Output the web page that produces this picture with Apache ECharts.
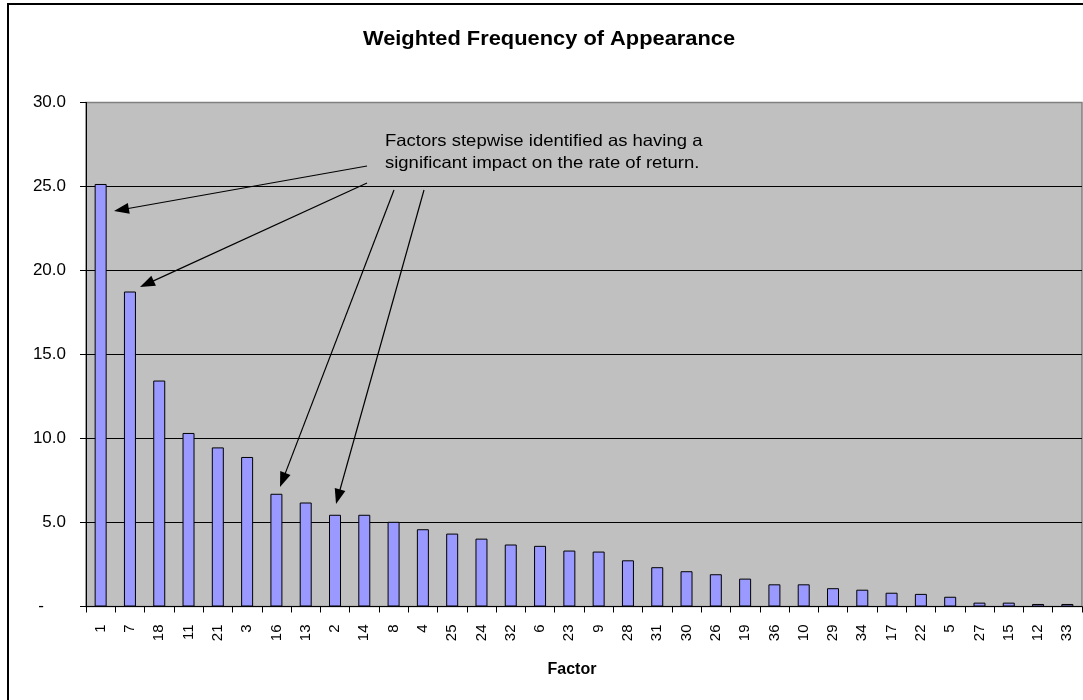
<!DOCTYPE html>
<html>
<head>
<meta charset="utf-8">
<style>
  html, body { margin: 0; padding: 0; background: #ffffff; }
  #chart { width: 1083px; height: 700px; }
</style>
<script src="https://cdn.jsdelivr.net/npm/echarts@6/dist/echarts.min.js"></script>
</head>
<body>
<div id="chart"></div>
<script>
// Factors, sorted by weighted frequency
const factors = ['1','7','18','11','21','3','16','13','2','14','8','4','25','24','32','6','23','9','28','31','30','26','19','36','10','29','34','17','22','5','27','15','12','33'];
const weightedFrequency = [25.15, 18.75, 13.45, 10.33, 9.47, 8.9, 6.71, 6.19, 5.46, 5.46, 5.04, 4.6, 4.34, 4.04, 3.69, 3.61, 3.33, 3.27, 2.75, 2.34, 2.1, 1.92, 1.66, 1.32, 1.32, 1.09, 1.0, 0.82, 0.75, 0.58, 0.23, 0.23, 0.15, 0.15];
const yTicks = { min: 0, max: 30, step: 5 };

const chartTitle = 'Weighted Frequency of Appearance';
const axisTitle = 'Factor';
const noteLines = ['Factors stepwise identified as having a', 'significant impact on the rate of return.'];

const FONT = '"Liberation Sans", Arial, Helvetica, sans-serif';

// Callout arrows: [startX, startY, tipX, tipY] in pixels
const arrows = [
  [367, 166, 114, 211],
  [367, 183, 140, 287],
  [394, 190, 280, 487],
  [424, 190, 336, 504]
];

function arrowGraphics(a) {
  const [x1, y1, x2, y2] = a;
  const dx = x2 - x1, dy = y2 - y1;
  const len = Math.sqrt(dx * dx + dy * dy);
  const ux = dx / len, uy = dy / len;
  const headLen = 15, headHalf = 5.5;
  const bx = x2 - ux * headLen, by = y2 - uy * headLen;
  const px = -uy * headHalf, py = ux * headHalf;
  return [
    { type: 'line', silent: true, z: 20,
      shape: { x1: x1, y1: y1, x2: bx + ux * 2, y2: by + uy * 2 },
      style: { stroke: '#000', lineWidth: 1.2 } },
    { type: 'polygon', silent: true, z: 20,
      shape: { points: [[x2, y2], [bx + px, by + py], [bx - px, by - py]] },
      style: { fill: '#000' } }
  ];
}

// Text drawn slightly wide, scaled about its own anchor point
function wideText(x, y, text, font, align) {
  return { type: 'text', silent: true, z: 30, x: x, y: y, scaleX: 1.12, originX: 0, originY: 0,
    style: { text: text, font: font, fill: '#000', textAlign: align, textVerticalAlign: 'middle' } };
}

const graphics = [
  { type: 'rect', silent: true, z: 30,
    shape: { x: 8, y: 4, width: 1120, height: 740 },
    style: { fill: 'none', stroke: '#000', lineWidth: 2 } },
  wideText(549, 40, chartTitle, 'bold 19.5px ' + FONT, 'center'),
  wideText(385, 141, noteLines[0], '16.5px ' + FONT, 'left'),
  wideText(385, 163, noteLines[1], '16.5px ' + FONT, 'left')
];
arrows.forEach(a => graphics.push(...arrowGraphics(a)));

const chart = echarts.init(document.getElementById('chart'), null, { renderer: 'canvas' });
chart.setOption({
  backgroundColor: '#ffffff',
  animation: false,
  grid: {
    left: 86, right: 1, top: 102.5, bottom: 93.5,
    show: true, backgroundColor: '#c0c0c0', borderColor: '#808080', borderWidth: 1.5
  },
  xAxis: {
    type: 'category',
    data: factors,
    name: axisTitle,
    nameLocation: 'middle',
    nameGap: 55,
    nameTextStyle: { fontFamily: FONT, fontWeight: 'bold', fontSize: 16, color: '#000', padding: [0, 24, 0, 0] },
    axisLine: { lineStyle: { color: '#000', width: 1 } },
    axisTick: { show: true, length: 6, lineStyle: { color: '#000' } },
    axisLabel: { rotate: 90, margin: 18, fontFamily: FONT, fontSize: 15, color: '#000', interval: 0 },
    splitLine: { show: false }
  },
  yAxis: {
    type: 'value',
    min: yTicks.min, max: yTicks.max, interval: yTicks.step,
    axisLine: { show: true, lineStyle: { color: '#000', width: 1 } },
    axisTick: { show: true, length: 6, lineStyle: { color: '#000' } },
    axisLabel: {
      margin: 20, fontFamily: FONT, fontSize: 17, color: '#000',
      formatter: v => v === 0 ? '{z|-}' : v.toFixed(1),
      rich: { z: { fontFamily: FONT, fontSize: 17, color: '#000', padding: [0, 22, 0, 0] } }
    },
    splitLine: { show: true, showMinLine: false, showMaxLine: false, lineStyle: { color: '#000', width: 1 } }
  },
  series: [{
    type: 'bar',
    data: weightedFrequency,
    barWidth: 12,
    itemStyle: { color: '#9999ff', borderColor: '#000', borderWidth: 1 }
  }],
  graphic: graphics
});
</script>
</body>
</html>
